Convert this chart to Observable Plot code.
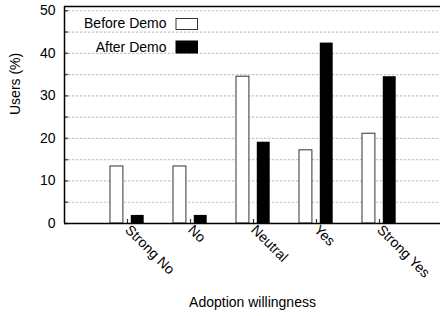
<!DOCTYPE html>
<html>
<head>
<meta charset="utf-8">
<script src="https://cdn.jsdelivr.net/npm/d3@7"></script>
<script src="https://cdn.jsdelivr.net/npm/@observablehq/plot@0.6"></script>
<style>
  html, body { margin: 0; padding: 0; background: #fff; }
  #chart svg { display: block; font-family: "Liberation Sans", Arial, sans-serif; }
</style>
</head>
<body>
<div id="chart"></div>
<script>
const categories = ["Strong No", "No", "Neutral", "Yes", "Strong Yes"];
const beforeDemo = [13.4, 13.4, 34.5, 17.2, 21.1];
const afterDemo = [1.9, 1.9, 19.1, 42.4, 34.5];
const seriesNames = ["Before Demo", "After Demo"];
const yTicks = [0, 10, 20, 30, 40, 50];
const yMinorTicks = [0, 5, 10, 15, 20, 25, 30, 35, 40, 45, 50];
const gridValues = [5, 10, 15, 20, 25, 30, 35, 40, 45, 50];

const idx = categories.map((c, i) => i);
const before = idx.map(i => ({i, v: beforeDemo[i]}));
const after = idx.map(i => ({i, v: afterDemo[i]}));
const font = 14;

const chart = Plot.plot({
  width: 440,
  height: 316,
  marginLeft: 64,
  marginTop: 6,
  marginBottom: 93,
  marginRight: 0,
  style: {fontFamily: '"Liberation Sans", Arial, sans-serif', fontSize: font + "px", color: "#000", background: "#fff"},
  x: {domain: [-1, 5], range: [64, 442]},
  y: {domain: [0, 51]},
  marks: [
    Plot.ruleY(gridValues, {stroke: "#c8c8c8", strokeWidth: 1.2, strokeDasharray: "2.5,1.5"}),
    Plot.rectY(before, {x1: d => d.i - 0.27, x2: d => d.i - 0.065, y1: 0, y2: "v", fill: "#fff", stroke: "#333", strokeWidth: 1}),
    Plot.rectY(after, {x1: d => d.i + 0.06, x2: d => d.i + 0.265, y1: 0, y2: "v", fill: "#000"}),
    Plot.axisY({ticks: yMinorTicks, tickSize: -4, text: null, stroke: "#555", strokeWidth: 1.5, label: null}),
    Plot.axisY({ticks: yTicks, tickSize: 0, tickPadding: 9, label: null, fontSize: font}),
    Plot.axisX({ticks: idx, tickSize: -4, tickFormat: i => categories[i], tickRotate: 45, tickPadding: 8, label: null, fontSize: font, stroke: "#333", strokeWidth: 1.2}),
    Plot.ruleY([0], {stroke: "#000", strokeWidth: 1.6}),
    Plot.ruleY([51], {stroke: "#000", strokeWidth: 1.5}),
    Plot.ruleX([-1], {stroke: "#000", strokeWidth: 1.5}),
    Plot.text(["Users (%)"], {frameAnchor: "left", dx: -49, rotate: -90, fontSize: font}),
    Plot.text(["Adoption willingness"], {frameAnchor: "bottom", dy: 83, fontSize: font})
  ]
});

// Legend inside plot area (top-left)
const svg = d3.select(chart);
const lg = svg.append("g").attr("font-size", font + "px").attr("font-family", '"Liberation Sans", Arial, sans-serif');
const entries = [
  {name: seriesNames[0], fill: "#fff", stroke: "#333", ty: 23.5, by: 18.5, bh: 11},
  {name: seriesNames[1], fill: "#000", stroke: "none", ty: 47, by: 40.5, bh: 13}
];
for (const e of entries) {
  lg.append("text").attr("x", 166.5).attr("y", e.ty).attr("text-anchor", "end").attr("dy", "0.35em").attr("fill", "#000").text(e.name);
  lg.append("rect").attr("x", e.stroke === "none" ? 175.5 : 176).attr("y", e.by).attr("width", e.stroke === "none" ? 22.5 : 21.5).attr("height", e.bh)
    .attr("fill", e.fill).attr("stroke", e.stroke).attr("stroke-width", 1);
}

document.getElementById("chart").appendChild(chart);
</script>
</body>
</html>
